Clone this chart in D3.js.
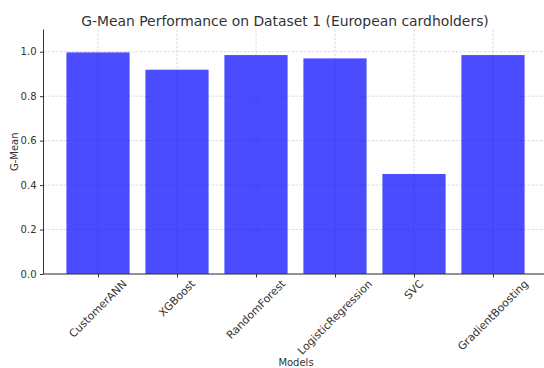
<!DOCTYPE html>
<html><head><meta charset="utf-8">
<script src="https://cdn.jsdelivr.net/npm/d3@7"></script>
<style>body{margin:0;background:#fff}svg{display:block;font-family:"DejaVu Sans",sans-serif}</style>
</head><body><svg id="c" width="544" height="368"></svg>
<script>
const models = ["CustomerANN","XGBoost","RandomForest","LogisticRegression","SVC","GradientBoosting"];
const gmean = [0.997, 0.919, 0.985, 0.970, 0.450, 0.985];
const yTicks = [0.0,0.2,0.4,0.6,0.8,1.0];
const title = "G-Mean Performance on Dataset 1 (European cardholders)";

const svg = d3.select("#c");
const L = 43.5, R = 547.5, T = 29.5, B = 274;
const x = d3.scaleLinear().domain([-0.69, models.length-1+0.69]).range([L, R]);
const y = d3.scaleLinear().domain([0, 1.1]).range([B, T]);
const bw = x(0.4) - x(-0.4);
const txt = "#333";

// grid
const g = svg.append("g");
g.selectAll(".gy").data(yTicks).join("line")
  .attr("x1", L).attr("x2", R).attr("y1", d=>y(d)).attr("y2", d=>y(d))
  .attr("stroke","#d0d0d0").attr("stroke-width",0.8).attr("stroke-dasharray","2.5,1.5");
g.selectAll(".gx").data(models).join("line")
  .attr("x1",(d,i)=>x(i)).attr("x2",(d,i)=>x(i)).attr("y1",T).attr("y2",B)
  .attr("stroke","#d0d0d0").attr("stroke-width",0.8).attr("stroke-dasharray","2.5,1.5");

// bars
svg.append("g").selectAll("rect").data(gmean).join("rect")
  .attr("x",(d,i)=>x(i)-bw/2).attr("width",bw)
  .attr("y",d=>y(d)).attr("height",d=>B-y(d))
  .attr("fill","blue").attr("fill-opacity",0.7);

// y axis
const ya = svg.append("g").attr("transform",`translate(${L},0)`)
  .call(d3.axisLeft(y).tickValues(yTicks).tickFormat(d3.format(".1f")).tickSize(3.5).tickPadding(3.5));
ya.select(".domain").attr("stroke",txt).attr("stroke-width",1).attr("d",`M0,${T}V${B}`);
ya.selectAll(".tick line").attr("stroke",txt);
ya.selectAll(".tick text").attr("fill",txt).attr("font-size",10).attr("font-family","DejaVu Sans");

// x axis
const xa = svg.append("g").attr("transform",`translate(0,${B})`)
  .call(d3.axisBottom(x).tickValues(d3.range(models.length)).tickSize(3.5).tickFormat(""));
xa.select(".domain").attr("stroke",txt).attr("stroke-width",1).attr("d",`M${L},0H${R}`);
xa.selectAll(".tick line").attr("stroke",txt);

// rotated labels
const lab = svg.append("g");
models.forEach((m,i)=>{
  const t = lab.append("text").text(m).attr("font-size",10.8).attr("fill",txt)
    .attr("text-anchor","middle").attr("dominant-baseline","central");
  const w = t.node().getComputedTextLength();
  const h = 11.5;
  const bh = (w + h) * Math.SQRT1_2;
  const cx = x(i), cy = B + 4 + bh/2;
  t.attr("transform",`translate(${cx},${cy}) rotate(-45)`);
});

svg.append("text").attr("x",296).attr("y",366).attr("text-anchor","middle")
  .attr("font-size",10).attr("fill",txt).text("Models");
svg.append("text").attr("transform",`translate(17.5,${(T+B)/2}) rotate(-90)`).attr("text-anchor","middle")
  .attr("font-size",10).attr("fill",txt).text("G-Mean");
svg.append("text").attr("x",285).attr("y",26).attr("text-anchor","middle")
  .attr("font-size",13.9).attr("fill",txt).text(title);
</script></body></html>
